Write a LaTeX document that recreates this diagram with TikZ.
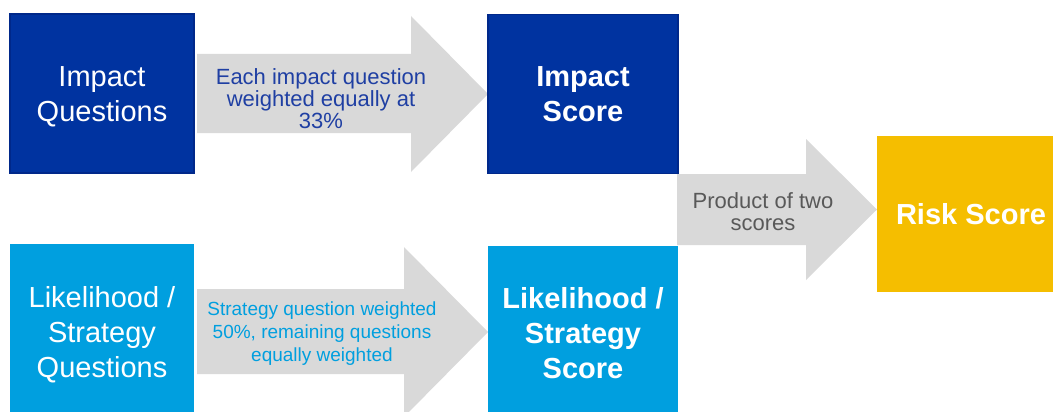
\documentclass[tikz,border=0pt]{standalone}
\usepackage{fontspec}
\setmainfont{Liberation Sans}
\definecolor{darkblue}{HTML}{0033A0}
\definecolor{darkedge}{HTML}{00288A}
\definecolor{lightblue}{HTML}{009FDF}
\definecolor{gold}{HTML}{F5BE00}
\definecolor{arrowgrey}{HTML}{D9D9D9}
\definecolor{labgrey}{HTML}{595959}
\definecolor{labdark}{HTML}{1F3FA3}
\begin{document}
\begin{tikzpicture}[x=1pt,y=-1pt,
  box/.style={rectangle, inner sep=0pt, align=center, text=white,
              font=\fontsize{29}{35}\selectfont},
  darkbox/.style={box, fill=darkblue, draw=darkedge, line width=1.5pt},
  lightbox/.style={box, fill=lightblue},
  goldbox/.style={box, fill=gold},
  boxtext/.style={align=center, inner sep=0pt, text=white,
              font=\fontsize{29}{35}\selectfont},
  flow/.style={fill=arrowgrey},
  flowlabel/.style={align=center, inner sep=0pt}]
\useasboundingbox (0,0) rectangle (1053,412);

% grey block arrows
\fill[flow] (197,54) -- (411,54) -- (411,16) -- (488,94) -- (411,172)
  -- (411,133) -- (197,133) -- cycle;
\fill[flow] (197,289) -- (404,289) -- (404,247) -- (488,332) -- (404,417)
  -- (404,374) -- (197,374) -- cycle;
\fill[flow] (677,174) -- (806,174) -- (806,139) -- (877,209.5) -- (806,280)
  -- (806,245) -- (677,245) -- cycle;

% boxes
\node[darkbox, minimum width=184pt, minimum height=159pt] (iq) at (102,93.5) {};
\node[boxtext] (iqt) at (102,97) {Impact\\Questions};
\node[darkbox, minimum width=190pt, minimum height=159pt] (is) at (583,94)
  {\bfseries Impact\\\bfseries Score};
\node[lightbox, minimum width=184pt, minimum height=176pt] (lq) at (102,332) {};
\node[boxtext] (lqt) at (102,335) {Likelihood /\\Strategy\\Questions};
\node[lightbox, minimum width=190pt, minimum height=175pt] (ls) at (583,333)
  {\bfseries Likelihood /\\\bfseries Strategy\\\bfseries Score};
\node[goldbox, minimum width=188pt, minimum height=156pt] (rs) at (971,214)
  {\bfseries Risk Score};

% arrow labels
\node[flowlabel, text=labdark, font=\fontsize{22}{22}\selectfont] (l1) at (321,99)
  {Each impact question\\weighted equally at\\33\%};
\node[flowlabel, text=lightblue, font=\fontsize{19}{23}\selectfont] (l2) at (322,334)
  {Strategy question weighted\\50\%, remaining questions\\equally weighted};
\node[flowlabel, text=labgrey, font=\fontsize{22}{22}\selectfont] (l3) at (763,212)
  {Product of two\\scores};
\end{tikzpicture}
\end{document}
